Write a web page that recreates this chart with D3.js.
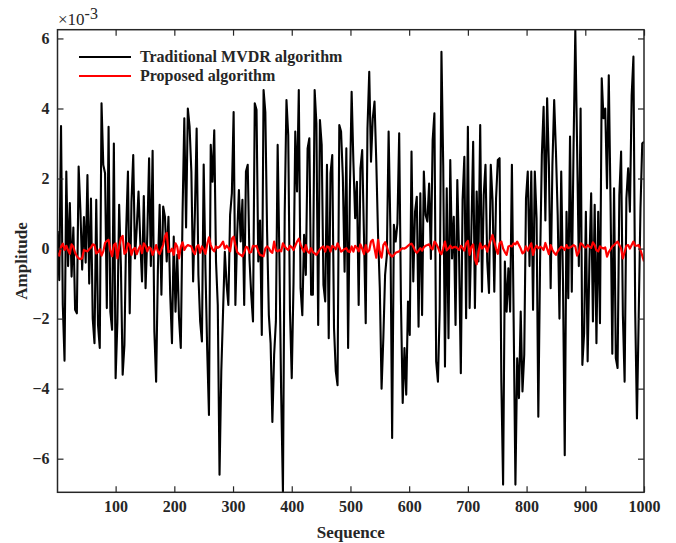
<!DOCTYPE html>
<html>
<head>
<meta charset="utf-8">
<script src="https://cdn.jsdelivr.net/npm/d3@7/dist/d3.min.js"></script>
<style>
  body { margin: 0; background: #fff; }
  text { font-family: "Liberation Serif", "Times New Roman", serif; fill: #262626; }
</style>
</head>
<body>
<div id="chart"></div>
<script>
// sample index (every 3rd point of the 1..1000 sequence)
const sequence = d3.range(1, 1001, 3);

// amplitudes, in units of 1e-3 (axis shows x10^-3)
const mvdrValues = [
  0.5, -0.9, 3.5, -1.6, -3.2, 2.2, -0.5, 1.3, -0.8, 0.6,
  -1.75, -1.85, 2.34, 1.1, -0.6, 0.9, -0.4, 2.1, -1.0, 1.43,
  -2.0, -2.7, 1.39, -2.18, -2.84, 4.15, 2.39, 2.15, -1.7, 3.48,
  -1.8, -2.32, 3.0, -3.7, -2.1, 1.25, -0.5, -3.6, -2.75, 0.53,
  2.2, -1.85, 1.34, 2.67, -0.28, 0.6, 1.63, 0.2, -0.94, 1.5,
  -1.13, 0.4, 2.58, -0.5, 2.79, -2.37, -3.8, -0.6, 1.25, -1.32,
  1.2, 0.91, -0.37, 0.91, -1.32, -2.7, 0.34, -1.8, -0.18, -1.99,
  -2.84, 1.0, 3.72, 0.6, 4.0, 3.48, 2.2, -0.94, 1.0, 3.43,
  -0.75, -2.08, -2.65, 2.4, -0.56, -2.9, -4.75, 2.96, 1.91, 3.38,
  -0.37, -1.61, -6.46, -3.5, -1.8, -0.09, -1.0, -1.61, 0.96, 1.58,
  3.9, -1.61, 0.39, 1.67, 0.2, 1.39, -1.61, 2.2, 2.39, -0.3,
  -1.32, -2.08, 4.15, 3.96, -0.37, 0.8, -2.47, 4.53, 3.9, 0.49,
  -1.9, -2.7, -4.95, -3.03, -2.08, 2.96, -0.28, -4.17, -6.96, 1.0,
  4.24, 3.24, -1.8, -3.7, -1.0, 3.34, 1.63, 4.53, -1.13, -1.9,
  0.39, -0.75, 2.86, 3.15, -1.32, -1.32, 4.53, 3.58, -2.18, 3.67,
  2.96, -1.04, -1.51, 2.39, -2.56, 2.15, 2.67, -2.27, -3.5, -3.9,
  3.53, 3.34, 2.05, -0.66, 2.86, -2.84, 1.63, 4.48, 2.48, 0.87,
  1.91, -1.61, 2.29, 2.81, 0.39, -2.13, 3.43, 5.05, 2.48, 3.72,
  4.2, 2.48, 0.39, -1.13, -4.0, -2.56, -0.75, -0.18, 3.34, 0.58,
  -5.41, 0.68, 0.2, 0.72, 3.29, -1.51, -4.41, -2.84, -4.17, -1.51,
  -2.47, 2.77, -0.94, 1.05, 1.48, -2.23, 1.58, -1.9, 2.2, 0.96,
  0.77, 1.86, -0.3, 3.1, 3.86, -3.22, -3.8, -1.75, 5.62, 2.39,
  -3.37, 1.72, -2.56, 2.53, -0.28, 0.91, -2.18, 1.96, -0.18, -3.56,
  1.39, 2.62, -1.99, 3.48, -1.7, 0.5, 3.05, -1.7, 1.63, -0.37,
  3.53, -1.23, 1.53, 2.39, -0.37, -1.27, 2.39, 1.39, -1.23, 1.43,
  2.53, 2.58, -3.8, -6.74, -0.37, -1.8, -0.56, -1.8, 2.39, -2.08,
  -6.74, -3.13, -4.27, -1.8, -4.08, -3.03, 1.43, 2.2, -0.5, 2.2,
  -1.75, 2.2, 0.87, -4.8, -0.37, 2.67, 4.05, 0.8, 4.29, 2.39,
  -1.13, 2.39, 4.24, 2.77, 0.96, -2.0, 2.2, -0.94, -5.9, 1.05,
  -1.42, 3.2, -1.23, 2.9, 6.24, 2.96, -0.5, 4.0, -3.32, -2.42,
  1.05, -3.22, -0.37, 1.58, -2.08, 1.25, -2.7, 1.05, -2.13, 4.86,
  3.72, 4.0, 1.72, 4.95, 1.34, -3.0, 1.72, -3.13, -3.41, 1.53,
  2.77, -1.9, -3.8, 1.43, 2.29, 1.05, 4.38, 5.48, -1.8, -4.85,
  -1.9, 1.15, 3.0, 3.05
];

const proposedValues = [
  -0.13, -0.2, 0.05, 0.14, -0.04, 0.08, -0.05, -0.15, 0.12, 0.05,
  -0.12, -0.22, -0.28, -0.3, -0.28, -0.04, -0.06, -0.08, -0.02, 0.03,
  0.12, 0.1, -0.14, -0.1, -0.02, -0.2, -0.08, 0.16, 0.22, 0.25,
  -0.05, -0.22, 0.1, 0.15, -0.28, 0.05, 0.3, 0.36, -0.15, -0.1,
  0.15, 0.1, -0.18, -0.02, 0.02, -0.16, -0.02, 0.08, -0.13, 0.15,
  0.08, -0.08, 0.04, 0.0, -0.18, -0.05, 0.1, -0.08, -0.16, -0.02,
  0.1, 0.35, 0.45, -0.1, -0.08, 0.0, -0.18, 0.15, 0.05, -0.28,
  0.05, 0.18, -0.04, 0.05, 0.1, 0.08, 0.06, -0.08, -0.16, 0.05,
  0.1, -0.12, 0.06, -0.02, -0.15, 0.12, 0.32, 0.1, -0.02, -0.08,
  0.06, 0.02, 0.05, 0.12, 0.2, 0.0, 0.08, 0.02, -0.08, 0.28,
  0.34, 0.1, -0.1, -0.15, -0.18, -0.22, -0.1, 0.05, 0.03, -0.12,
  -0.1, 0.08, 0.06, 0.08, -0.08, -0.18, -0.2, -0.22, 0.0, 0.06,
  0.01, -0.08, -0.12, 0.2, -0.05, -0.08, -0.04, -0.08, 0.15, 0.06,
  0.0, -0.04, 0.08, 0.04, -0.04, 0.08, 0.2, 0.28, 0.12, 0.0,
  -0.09, 0.1, -0.08, -0.12, 0.01, -0.1, -0.14, -0.18, -0.1, -0.02,
  0.03, 0.06, -0.09, 0.06, 0.05, -0.09, 0.08, 0.04, -0.02, 0.15,
  0.04, -0.09, -0.05, -0.01, 0.01, -0.08, -0.1, 0.06, -0.09, 0.08,
  0.02, -0.08, 0.12, 0.0, -0.16, 0.1, -0.1, -0.05, 0.2, 0.25,
  0.0, -0.26, 0.25, -0.1, -0.26, 0.1, 0.18, 0.05, -0.12, -0.18,
  -0.23, -0.18, -0.12, -0.1, -0.08, -0.02, 0.01, 0.0, 0.03, 0.08,
  0.12, 0.14, 0.06, -0.06, -0.12, -0.06, 0.01, -0.06, 0.04, 0.08,
  0.1, 0.12, 0.02, -0.02, 0.2, 0.14, 0.04, -0.1, -0.16, 0.01,
  0.2, -0.05, 0.0, 0.08, 0.01, 0.04, 0.05, 0.01, -0.04, 0.08,
  0.02, -0.06, 0.15, 0.22, -0.18, 0.05, 0.12, -0.3, -0.45, -0.1,
  0.15, 0.0, 0.05, 0.08, -0.09, 0.1, 0.25, 0.39, 0.2, 0.0,
  -0.15, 0.15, 0.2, 0.0, -0.1, -0.18, 0.06, 0.08, 0.06, 0.15,
  0.12, 0.2, 0.1, 0.0, -0.14, -0.1, 0.06, -0.06, 0.05, 0.15,
  -0.18, 0.0, 0.08, 0.01, 0.05, 0.02, -0.04, 0.16, 0.0, -0.16,
  0.1, -0.04, -0.12, -0.18, -0.08, -0.01, 0.05, 0.02, -0.04, 0.1,
  0.01, 0.03, 0.06, 0.1, 0.06, -0.2, -0.1, 0.15, 0.12, 0.05,
  0.03, 0.1, 0.05, 0.02, 0.18, 0.1, -0.05, -0.08, 0.06, 0.02,
  0.0, 0.03, -0.23, -0.1, -0.02, 0.06, 0.1, 0.15, 0.2, 0.1,
  0.0, -0.28, -0.1, 0.08, 0.1, 0.0, 0.1, 0.2, 0.08, 0.08,
  0.1, -0.04, -0.2, -0.37
];

const xTicks = [100, 200, 300, 400, 500, 600, 700, 800, 900, 1000];
const yTicks = [-6, -4, -2, 0, 2, 4, 6];
const seriesNames = ['Traditional MVDR algorithm', 'Proposed algorithm'];
const seriesColors = ['#000000', '#ff0000'];

const w = 676, h = 543;
const plotLeft = 57.5, plotRight = 644, plotTop = 29.7, plotBottom = 492.3;
const axisColor = '#262626';

let svg = d3.select('#chart')
  .append('svg')
  .attr('width', w)
  .attr('height', h);

let x = d3.scaleLinear().domain([1, 1000]).range([plotLeft, plotRight]);
let y = d3.scaleLinear().domain([-6.96, 6.25]).range([plotBottom, plotTop]);

svg.append('clipPath')
  .attr('id', 'plotClip')
  .append('rect')
  .attr('x', plotLeft)
  .attr('y', plotTop)
  .attr('width', plotRight - plotLeft)
  .attr('height', plotBottom - plotTop);

let line = d3.line()
  .x((d, i) => x(sequence[i]))
  .y(d => y(d));

let plot = svg.append('g').attr('clip-path', 'url(#plotClip)');

[mvdrValues, proposedValues].forEach((vals, k) => {
  plot.append('path')
    .datum(vals)
    .attr('d', line)
    .attr('fill', 'none')
    .attr('stroke', seriesColors[k])
    .attr('stroke-width', k === 0 ? 2.1 : 2.2)
    .attr('stroke-linejoin', 'round');
});

// axes, ticks pointing inward on all four sides
function styleAxis(g) {
  g.select('.domain').remove();
  g.selectAll('line').attr('stroke', axisColor).attr('stroke-width', 1.2);
  g.selectAll('text')
    .attr('font-size', 16)
    .attr('font-weight', 'bold')
    .attr('fill', axisColor)
    .attr('font-family', '"Liberation Serif", "Times New Roman", serif');
}

svg.append('g')
  .attr('transform', 'translate(0,' + plotBottom + ')')
  .call(d3.axisBottom(x).tickValues(xTicks).tickSize(-6).tickPadding(8).tickFormat(d3.format('d')))
  .call(styleAxis);

svg.append('g')
  .attr('transform', 'translate(0,' + plotTop + ')')
  .call(d3.axisTop(x).tickValues(xTicks).tickSize(-6).tickFormat(''))
  .call(styleAxis);

svg.append('g')
  .attr('transform', 'translate(' + plotLeft + ',0)')
  .call(d3.axisLeft(y).tickValues(yTicks).tickSize(-6).tickPadding(8).tickFormat(d3.format('d')))
  .call(styleAxis);

svg.append('g')
  .attr('transform', 'translate(' + plotRight + ',0)')
  .call(d3.axisRight(y).tickValues(yTicks).tickSize(-6).tickFormat(''))
  .call(styleAxis);

svg.append('rect')
  .attr('x', plotLeft)
  .attr('y', plotTop)
  .attr('width', plotRight - plotLeft)
  .attr('height', plotBottom - plotTop)
  .attr('fill', 'none')
  .attr('stroke', axisColor)
  .attr('stroke-width', 1.5);

// exponent label
let expo = svg.append('text')
  .attr('x', 58)
  .attr('y', 25)
  .attr('font-size', 17);
expo.append('tspan').text('\u00d710');
expo.append('tspan').text('-3').attr('dy', -6).attr('font-size', 16);

// axis titles
svg.append('text')
  .text('Sequence')
  .attr('x', (plotLeft + plotRight) / 2)
  .attr('y', 538)
  .attr('text-anchor', 'middle')
  .attr('font-size', 17)
  .attr('font-weight', 'bold');

svg.append('text')
  .text('Amplitude')
  .attr('transform', 'translate(27,' + (plotTop + plotBottom) / 2 + ') rotate(-90)')
  .attr('text-anchor', 'middle')
  .attr('font-size', 17)
  .attr('font-weight', 'bold');

// legend
seriesNames.forEach((name, i) => {
  let ly = 57 + i * 19;
  svg.append('line')
    .attr('x1', 79).attr('x2', 131)
    .attr('y1', ly).attr('y2', ly)
    .attr('stroke', seriesColors[i])
    .attr('stroke-width', 2);
  svg.append('text')
    .text(name)
    .attr('x', 140)
    .attr('y', ly + 5)
    .attr('font-size', 16)
    .attr('font-weight', 'bold')
    .attr('fill', '#000');
});
</script>
</body>
</html>
